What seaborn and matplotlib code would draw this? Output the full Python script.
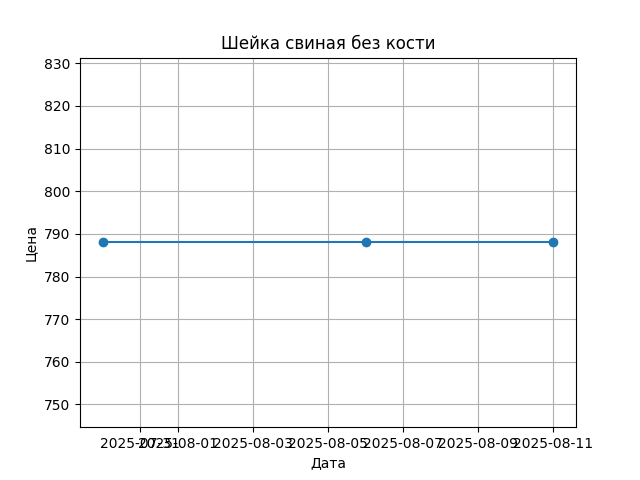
import matplotlib
matplotlib.use("Agg")
import matplotlib.pyplot as plt
import seaborn as sns
import pandas as pd

# price history
dates = ["2025-07-30", "2025-08-06", "2025-08-11"]
prices = [788, 788, 788]

df = pd.DataFrame({"Дата": pd.to_datetime(dates), "Цена": prices})

fig, ax = plt.subplots(figsize=(6.4, 4.8), dpi=100)
sns.lineplot(data=df, x="Дата", y="Цена", marker="o", color="#1f77b4",
             markeredgecolor="#1f77b4", markeredgewidth=1.0, markersize=6, ax=ax)

ax.set_title("Шейка свиная без кости")
ax.set_xlabel("Дата")
ax.set_ylabel("Цена")
ax.grid(True)

plt.savefig("out.png")
